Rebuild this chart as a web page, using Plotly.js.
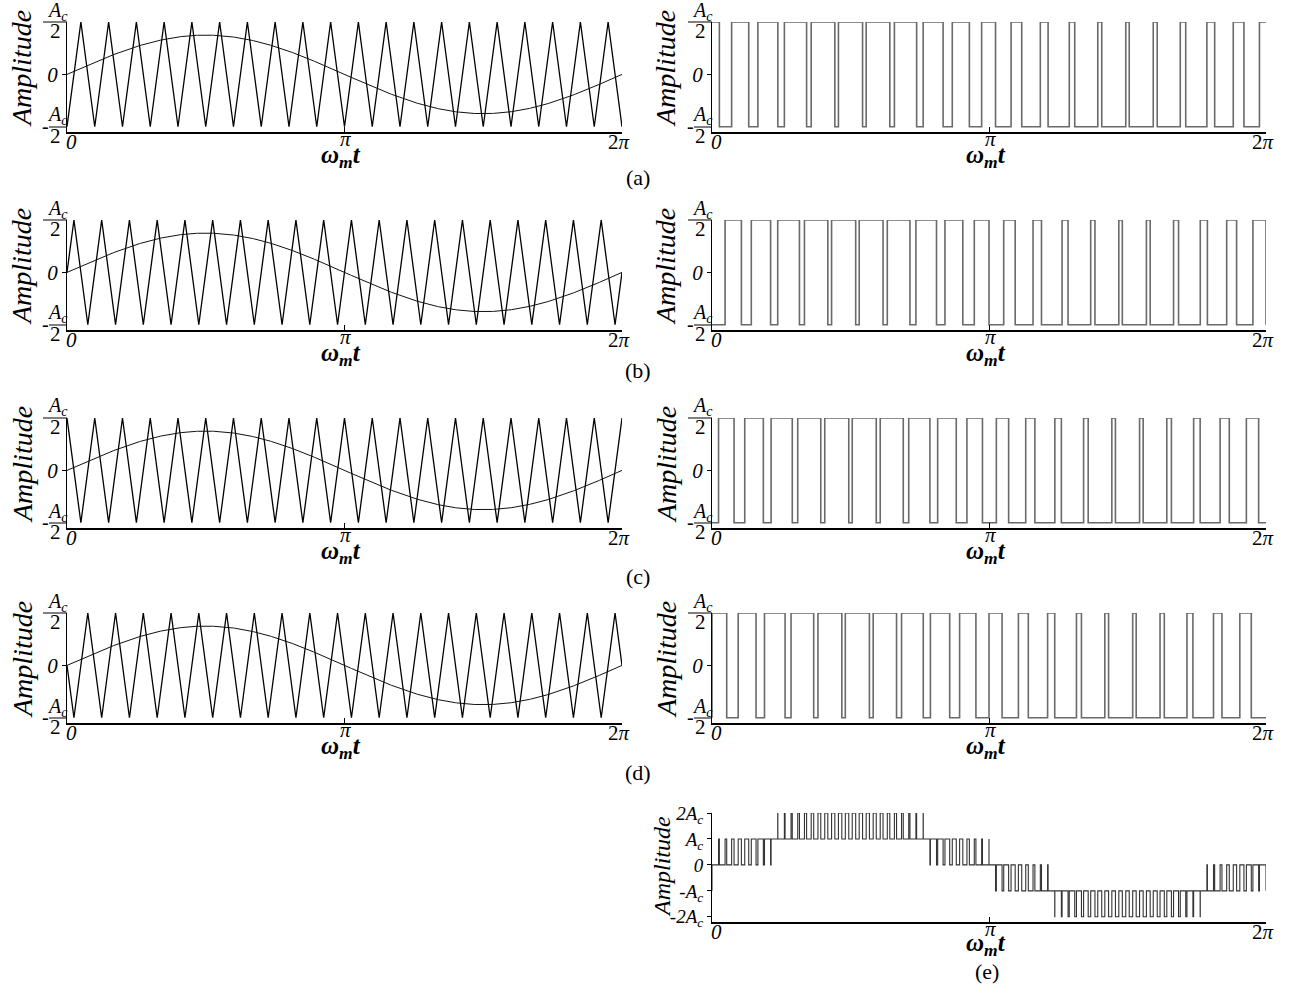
<!DOCTYPE html>
<html>
<head>
<meta charset="utf-8">
<script src="https://cdn.plot.ly/plotly-3.0.1.min.js"></script>
<style>
  html, body { margin: 0; padding: 0; background: #fff; }
  #chart { width: 1294px; height: 994px; }
</style>
</head>
<body>
<div id="chart"></div>
<script>
// Phase-shifted carrier PWM of a two-cell cascaded H-bridge:
// four shifted triangular carriers against one sinusoidal reference,
// the resulting cell switching signals, and their five-level sum.

const panelLabels = ['(a)', '(b)', '(c)', '(d)', '(e)'];
const carrierPeakPhase = [0.5, 0.25, 0, 0.75];   // where each carrier peaks, in carrier periods
const carrierRatio = [20];                        // carrier cycles per fundamental cycle
const modulationIndex = [0.75];
const carrierAmplitude = [0.5];                   // carriers swing between -Ac/2 and Ac/2
const xTickVals = [0, Math.PI, 2 * Math.PI];
const xTickText = ['<i>0</i>', '<i>π</i>', '2<i>π</i>'];
const cellTickVals = [0];
const cellTickText = ['<i>0</i>'];
const sumTickVals = [-2, -1, 0, 1, 2];
const sumTickText = ['<i>-2A<sub>c</sub></i>', '<i>-A<sub>c</sub></i>', '<i>0</i>', '<i>A<sub>c</sub></i>', '<i>2A<sub>c</sub></i>'];

const W = 1294, H = 994;
const FONT = 'Liberation Serif, Times New Roman, serif';
const TWO_PI = 2 * Math.PI;
const P = TWO_PI / carrierRatio[0];
const A = carrierAmplitude[0];

// page geometry (pixels)
const colX = [[67, 622], [712, 1266]];
const rowTop = [22, 220, 418, 613, 813];
const rowH = [110, 110, 110, 110, 109];
const px = v => v / W;
const py = v => 1 - v / H;

function carrierAt(t, peak) {
  let phi = t / P - peak;
  phi -= Math.round(phi);
  return A * (1 - 4 * Math.abs(phi));
}
function referenceAt(t) {
  return modulationIndex[0] * A * Math.sin(t);
}

// carrier vertices
function carrierTrace(peak) {
  const xs = [0], ys = [carrierAt(0, peak)];
  for (let j = -2; j <= 2 * carrierRatio[0] + 2; j++) {
    const t = (peak + j / 2) * P;
    if (t > 1e-9 && t < TWO_PI - 1e-9) {
      xs.push(t);
      ys.push(j % 2 === 0 ? A : -A);
    }
  }
  xs.push(TWO_PI); ys.push(carrierAt(TWO_PI, peak));
  return { xs, ys };
}

// reference curve
const refX = [], refY = [];
for (let i = 0; i <= 720; i++) {
  const t = TWO_PI * i / 720;
  refX.push(t); refY.push(referenceAt(t));
}

// switching signals of the four cells (high while the reference is above
// the carrier) and their sum
const NS = 200000;
const cellX = [[], [], [], []], cellY = [[], [], [], []];
const sumX = [], sumY = [];
let prev = null, prevSum = null;
for (let i = 0; i <= NS; i++) {
  const t = TWO_PI * i / NS;
  const r = referenceAt(t);
  const s = carrierPeakPhase.map(pk => (r > carrierAt(t, pk) ? A : -A));
  const totAc = s.reduce((a, b) => a + b, 0);
  for (let k = 0; k < 4; k++) {
    if (prev === null || s[k] !== prev[k]) { cellX[k].push(t); cellY[k].push(s[k]); }
  }
  if (prevSum === null || totAc !== prevSum) { sumX.push(t); sumY.push(totAc); }
  prev = s; prevSum = totAc;
}
for (let k = 0; k < 4; k++) { cellX[k].push(TWO_PI); cellY[k].push(prev[k]); }
sumX.push(TWO_PI); sumY.push(prevSum);

const data = [];
const layout = {
  width: W, height: H,
  margin: { l: 0, r: 0, t: 0, b: 0 },
  paper_bgcolor: '#ffffff', plot_bgcolor: 'rgba(0,0,0,0)',
  showlegend: false,
  font: { family: FONT, color: '#000', size: 20 },
  annotations: [], shapes: []
};

function addAxes(n, col, row, yr, tv, tt, yFont) {
  const sfx = n === 1 ? '' : String(n);
  const top = rowTop[row], bot = rowTop[row] + rowH[row];
  layout['xaxis' + sfx] = {
    domain: [px(colX[col][0]), px(colX[col][1])],
    anchor: 'y' + sfx, range: [0, TWO_PI],
    showline: true, linecolor: '#000', linewidth: 1.6,
    ticks: 'inside', ticklen: 5, tickwidth: 1, tickcolor: '#000',
    tickvals: xTickVals, showticklabels: false,
    showgrid: false, zeroline: false, fixedrange: true
  };
  layout['yaxis' + sfx] = {
    domain: [py(bot), py(top)],
    anchor: 'x' + sfx, range: yr,
    showline: true, linecolor: '#000', linewidth: 1,
    ticks: 'outside', ticklen: 4, tickwidth: 1, tickcolor: '#000',
    tickvals: tv, ticktext: tt,
    tickfont: { family: FONT, size: yFont, color: '#000' },
    showgrid: false, zeroline: false, fixedrange: true
  };
  // x tick labels sit tight under the axis line
  const x0 = colX[col][0], x1 = colX[col][1];
  addText(xTickText[0], x0 + 4, bot + 10, 21);
  addText(xTickText[1], x0 + 278, bot + 7, 21);
  addText(xTickText[2], x1 - 3, bot + 10, 21);
  return sfx;
}

function addText(text, x, y, size, opts) {
  layout.annotations.push(Object.assign({
    text, x: px(x), y: py(y), xref: 'paper', yref: 'paper',
    showarrow: false, xanchor: 'center', yanchor: 'middle',
    font: { family: FONT, size, color: '#000' }
  }, opts || {}));
}

// fraction label ±Ac/2 beside the y axis
function addFraction(axisX, tickY, negative) {
  const barL = negative ? axisX - 18 : axisX - 24;
  layout.shapes.push({
    type: 'line', xref: 'paper', yref: 'paper',
    x0: px(barL), x1: px(axisX), y0: py(tickY), y1: py(tickY),
    line: { color: '#000', width: 1 }
  });
  if (negative) addText('-', axisX - 22, tickY - 1, 20);
  addText('<i>A<sub>c</sub></i>', axisX - 10, tickY - 11, 20);
  addText('2', axisX - 12, tickY + 9, 21);
}

function axisPanelText(col, row, titleX, titleSize) {
  const x0 = colX[col][0];
  addText('<i>Amplitude</i>', titleX, rowTop[row] + 47, titleSize, { textangle: -90 });
  addText('<b><i>ω<sub>m</sub>t</i></b>', x0 + 274, rowTop[row] + 134, 25);
}

let n = 1;
for (let row = 0; row < 4; row++) {
  const sfx = addAxes(n, 0, row, [-0.55, 0.5], cellTickVals, cellTickText, 21);
  const c = carrierTrace(carrierPeakPhase[row]);
  data.push({
    x: c.xs, y: c.ys, xaxis: 'x' + sfx, yaxis: 'y' + sfx,
    type: 'scatter', mode: 'lines', cliponaxis: false,
    line: { color: '#000', width: 1.3 }, hoverinfo: 'skip'
  });
  data.push({
    x: refX, y: refY, xaxis: 'x' + sfx, yaxis: 'y' + sfx,
    type: 'scatter', mode: 'lines', cliponaxis: false,
    line: { color: '#111', width: 1 }, hoverinfo: 'skip'
  });
  addFraction(colX[0][0], rowTop[row], false);
  addFraction(colX[0][0], rowTop[row] + 105, true);
  axisPanelText(0, row, 22, 28);
  n++;
}
for (let row = 0; row < 4; row++) {
  const sfx = addAxes(n, 1, row, [-0.55, 0.5], cellTickVals, cellTickText, 21);
  data.push({
    x: cellX[row], y: cellY[row], xaxis: 'x' + sfx, yaxis: 'y' + sfx,
    type: 'scatter', mode: 'lines', cliponaxis: false,
    line: { color: '#6a6a6a', width: 1.6, shape: 'hv' }, hoverinfo: 'skip'
  });
  addFraction(colX[1][0], rowTop[row], false);
  addFraction(colX[1][0], rowTop[row] + 105, true);
  axisPanelText(1, row, 666, 28);
  n++;
}
{
  const sfx = addAxes(n, 1, 4, [-2.2, 2], sumTickVals, sumTickText, 19);
  data.push({
    x: sumX, y: sumY, xaxis: 'x' + sfx, yaxis: 'y' + sfx,
    type: 'scatter', mode: 'lines', cliponaxis: false,
    line: { color: '#333', width: 1.1, shape: 'hv' }, hoverinfo: 'skip'
  });
  addText('<i>Amplitude</i>', 662, 867, 24, { textangle: -90 });
  addText('<b><i>ω<sub>m</sub>t</i></b>', colX[1][0] + 274, rowTop[4] + 131, 25);
}

// panel captions
const captionPos = [[638, 178], [638, 370], [638, 576], [638, 772], [987, 971]];
panelLabels.forEach((lab, i) => addText(lab, captionPos[i][0], captionPos[i][1], 22));

Plotly.newPlot('chart', data, layout, { displayModeBar: false, staticPlot: true });
</script>
</body>
</html>
